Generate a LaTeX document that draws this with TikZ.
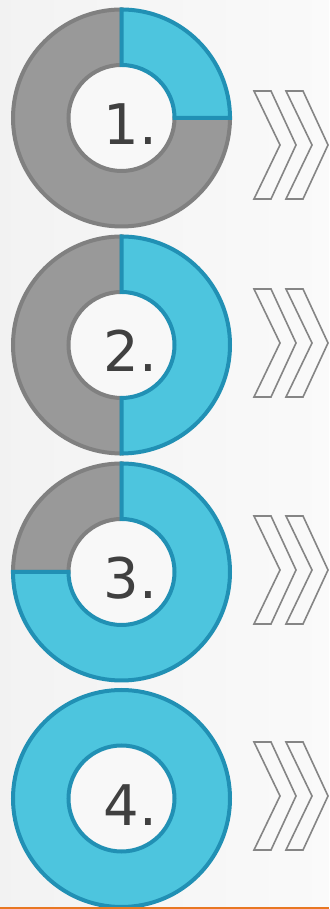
\documentclass[tikz,border=0pt]{standalone}
\usepackage{fontspec}
\setmainfont{DejaVu Sans}
\definecolor{ringcyan}{HTML}{4DC5DE}
\definecolor{ringblue}{HTML}{2190B4}
\definecolor{ringgrey}{HTML}{999999}
\definecolor{ringedge}{HTML}{808080}
\definecolor{numgrey}{HTML}{404040}
\definecolor{chevgrey}{HTML}{858585}
\definecolor{holefill}{HTML}{F8F8F8}
\definecolor{baseorange}{HTML}{E87722}
\begin{document}
\begin{tikzpicture}[x=1pt,y=1pt,
	greypart/.style={fill=ringgrey,draw=ringedge,line width=4pt},
	cyanpart/.style={fill=ringcyan,draw=ringblue,line width=4pt},
	chev/.style={draw=chevgrey,line width=1.6pt,line join=miter},
	num/.style={anchor=base,text=numgrey,font=\fontsize{56}{60}\selectfont}]
	\useasboundingbox (0,0) rectangle (329,909);
	\shade[left color=black!5,right color=black!2] (0,0) rectangle (329,909);
	% ring 1 : one quarter
	\begin{scope}[shift={(121.5,791)}]
		\coordinate (d1) at (0,0);
		\fill[holefill] (d1) circle[radius=53pt];
		\draw[greypart] (0:108.5) arc[start angle=0,end angle=-270,radius=108.5pt]--(90:53) arc[start angle=90,end angle=360,radius=53pt]--cycle;
		\draw[cyanpart] (90:108.5) arc[start angle=90,end angle=0,radius=108.5pt]--(0:53) arc[start angle=0,end angle=90,radius=53pt]--cycle;
		\node[num] (n1) at (9,-27) {1.};
	\end{scope}
	% ring 2 : one half
	\begin{scope}[shift={(121.5,564)}]
		\coordinate (d2) at (0,0);
		\fill[holefill] (d2) circle[radius=53pt];
		\draw[greypart] (90:108.5) arc[start angle=90,end angle=270,radius=108.5pt]--(270:53) arc[start angle=270,end angle=90,radius=53pt]--cycle;
		\draw[cyanpart] (-90:108.5) arc[start angle=-90,end angle=90,radius=108.5pt]--(90:53) arc[start angle=90,end angle=-90,radius=53pt]--cycle;
		\node[num] (n2) at (9,-27) {2.};
	\end{scope}
	% ring 3 : three quarters
	\begin{scope}[shift={(121.5,337)}]
		\coordinate (d3) at (0,0);
		\fill[holefill] (d3) circle[radius=53pt];
		\draw[greypart] (90:108.5) arc[start angle=90,end angle=180,radius=108.5pt]--(180:53) arc[start angle=180,end angle=90,radius=53pt]--cycle;
		\draw[cyanpart] (180:108.5) arc[start angle=180,end angle=450,radius=108.5pt]--(90:53) arc[start angle=90,end angle=-180,radius=53pt]--cycle;
		\node[num] (n3) at (9,-27) {3.};
	\end{scope}
	% ring 4 : full
	\begin{scope}[shift={(121.5,110.5)}]
		\coordinate (d4) at (0,0);
		\fill[holefill] (d4) circle[radius=53pt];
		\draw[cyanpart,even odd rule] (0,0) circle[radius=108.5pt] (0,0) circle[radius=53pt];
		\node[num] (n4) at (9,-27) {4.};
	\end{scope}
	% chevrons
	\foreach \y in {764,566,339,113}{
		\draw[chev] (254,\y+54)--(271,\y+54)--(296,\y)--(271,\y-54)--(254,\y-54)--(280,\y)--cycle;
		\draw[chev] (286,\y+54)--(303,\y+54)--(328,\y)--(303,\y-54)--(286,\y-54)--(312,\y)--cycle;
	}
	\draw[baseorange,line width=2pt] (0,1)--(329,1);
\end{tikzpicture}
\end{document}
